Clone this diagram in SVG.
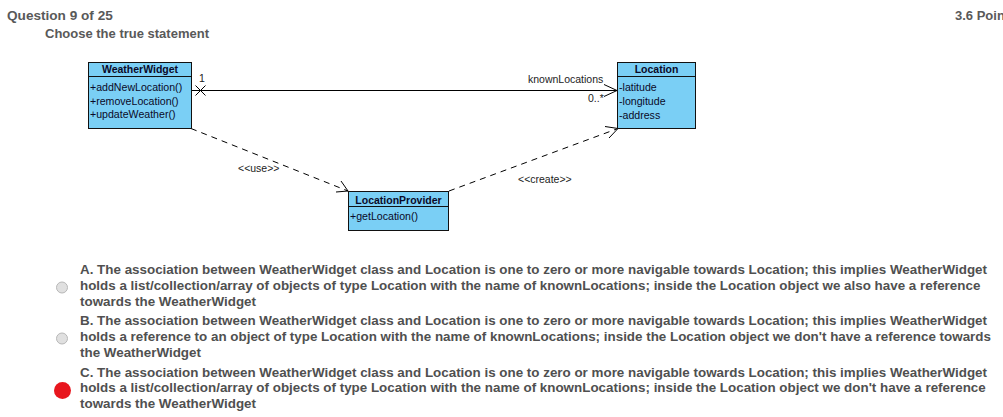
<svg xmlns="http://www.w3.org/2000/svg" width="1003" height="417" viewBox="0 0 1003 417">
<style>
.hdr{font-family:"Liberation Sans",Arial,sans-serif;font-weight:bold;font-size:13px;fill:#595959}
.ans{font-family:"Liberation Sans",Arial,sans-serif;font-weight:bold;font-size:13.4px;fill:#505050}
.box{fill:#7acff5;stroke:#111;stroke-width:1}
.sep{stroke:#111;stroke-width:1}
.cn{font-family:"Liberation Sans",Arial,sans-serif;font-weight:bold;font-size:10.5px;fill:#0a0a28;text-anchor:middle}
.mb{font-family:"Liberation Sans",Arial,sans-serif;font-size:10.6px;fill:#0a0a28}
.lbl{font-family:"Liberation Sans",Arial,sans-serif;font-size:10.5px;fill:#222}
.ln{stroke:#000;stroke-width:1;fill:none}
.dash{stroke:#000;stroke-width:1;fill:none;stroke-dasharray:6,5}
</style>
<rect width="1003" height="417" fill="#fff"/>
<text class="hdr" x="7" y="20" style="font-size:13.6px">Question 9 of 25</text>
<text class="hdr" x="45" y="38">Choose the true statement</text>
<text class="hdr" x="955" y="20">3.6 Poin</text>

<g id="connectors">
  <line class="ln" x1="192" y1="90.5" x2="617" y2="90.5"/>
  <path class="ln" d="M195.5,85.5 L205.5,95.5 M205.5,85.5 L195.5,95.5"/>
  <path class="ln" d="M604,84.5 L617,90.5 L604,96.5"/>
  <line class="dash" x1="191" y1="128.5" x2="348" y2="191"/>
  <path class="ln" d="M341,181 L348,191 L336,192"/>
  <line class="dash" x1="449" y1="191" x2="618" y2="128.5"/>
  <path class="ln" d="M605,126.5 L618,128.5 L609,138"/>
  <text class="lbl" x="199" y="82">1</text>
  <text class="lbl" x="528" y="83">knownLocations</text>
  <text class="lbl" x="588" y="102">0..*</text>
  <text class="lbl" x="238" y="172">&lt;&lt;use&gt;&gt;</text>
  <text class="lbl" x="518" y="183">&lt;&lt;create&gt;&gt;</text>
</g>

<g id="WeatherWidget">
  <rect class="box" x="88.5" y="62.5" width="103" height="66"/>
  <line class="sep" x1="88.5" y1="76.5" x2="191.5" y2="76.5"/>
  <text class="cn" x="140" y="73">WeatherWidget</text>
  <text class="mb" x="90" y="91">+addNewLocation()</text>
  <text class="mb" x="90" y="104.5">+removeLocation()</text>
  <text class="mb" x="90" y="118">+updateWeather()</text>
</g>

<g id="Location">
  <rect class="box" x="617.5" y="62.5" width="78" height="66"/>
  <line class="sep" x1="617.5" y1="76.5" x2="695.5" y2="76.5"/>
  <text class="cn" x="656.5" y="73">Location</text>
  <text class="mb" x="619" y="91">-latitude</text>
  <text class="mb" x="619" y="104.5">-longitude</text>
  <text class="mb" x="619" y="118.5">-address</text>
</g>

<g id="LocationProvider">
  <rect class="box" x="348.5" y="191.5" width="100" height="39"/>
  <line class="sep" x1="348.5" y1="206.5" x2="448.5" y2="206.5"/>
  <text class="cn" x="398.5" y="203.5">LocationProvider</text>
  <text class="mb" x="350" y="220">+getLocation()</text>
</g>

<g id="answers">
  <circle cx="62" cy="287.5" r="5.5" fill="#e0e0e0" stroke="#b8b8b8" stroke-width="1"/>
  <circle cx="62" cy="338.5" r="5.5" fill="#e0e0e0" stroke="#b8b8b8" stroke-width="1"/>
  <circle cx="62.5" cy="390.5" r="8.5" fill="#e8161e"/>
  <text class="ans" x="80" y="274">A. The association between WeatherWidget class and Location is one to zero or more navigable towards Location; this implies WeatherWidget</text>
  <text class="ans" x="80" y="290">holds a list/collection/array of objects of type Location with the name of knownLocations; inside the Location object we also have a reference</text>
  <text class="ans" x="80" y="305.5">towards the WeatherWidget</text>
  <text class="ans" x="80" y="325">B. The association between WeatherWidget class and Location is one to zero or more navigable towards Location; this implies WeatherWidget</text>
  <text class="ans" x="80" y="341">holds a reference to an object of type Location with the name of knownLocations; inside the Location object we don't have a reference towards</text>
  <text class="ans" x="80" y="356.5">the WeatherWidget</text>
  <text class="ans" x="80" y="376.5">C. The association between WeatherWidget class and Location is one to zero or more navigable towards Location; this implies WeatherWidget</text>
  <text class="ans" x="80" y="392">holds a list/collection/array of objects of type Location with the name of knownLocations; inside the Location object we don't have a reference</text>
  <text class="ans" x="80" y="407.5">towards the WeatherWidget</text>
</g>
</svg>
